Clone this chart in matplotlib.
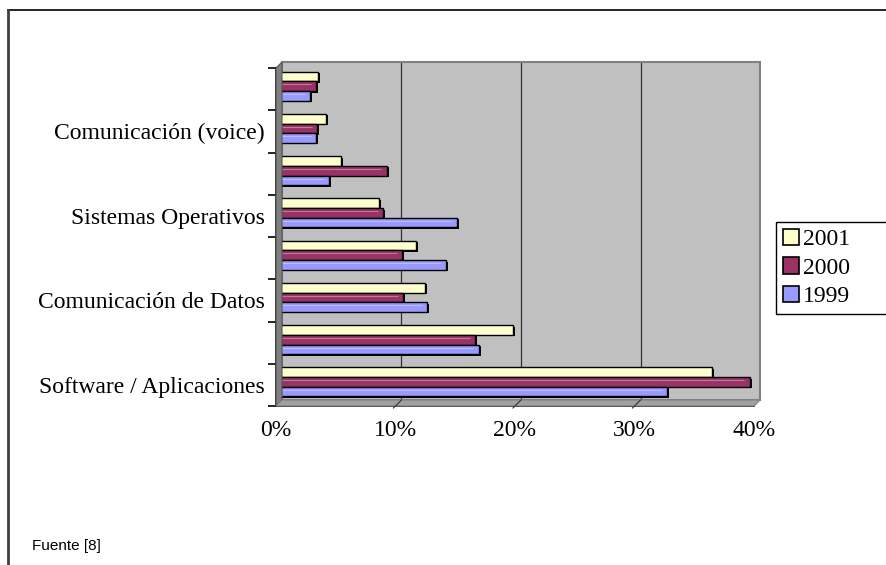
import matplotlib
matplotlib.use('Agg')
import matplotlib.pyplot as plt
import matplotlib.transforms as mtransforms
from matplotlib.patches import Polygon, Patch, Rectangle
from matplotlib.lines import Line2D
import numpy as np

# grupos de abajo hacia arriba; solo se rotula uno de cada dos
categorias = ['Software / Aplicaciones', '', 'Comunicación de Datos', '',
              'Sistemas Operativos', '', 'Comunicación (voice)', '']
v2001 = [36.3, 19.7, 12.3, 11.6, 8.5, 5.3, 4.0, 3.4]
v2000 = [39.5, 16.5, 10.5, 10.4, 8.8, 9.1, 3.3, 3.2]
v1999 = [32.6, 16.8, 12.5, 14.1, 15.0, 4.3, 3.2, 2.7]
anios = ['2001', '2000', '1999']
colores = ['#FFFFCC', '#993366', '#9999FF']
xticks = [0, 10, 20, 30, 40]

W, H = 887, 565
fig = plt.figure(figsize=(W / 100, H / 100), dpi=100)
fig.patch.set_facecolor('white')


def fx(px):
    return px / W


def fy(py):
    return 1 - py / H


# ejes frontales y pared del fondo (desplazada en 3D)
L, R, T, B = 276, 754, 68, 406
d = 6
ax_back = fig.add_axes([fx(L + d), fy(B - d), fx(R - L), (B - T) / H])
ax = fig.add_axes([fx(L), fy(B), fx(R - L), (B - T) / H])

n = len(categorias)
ax_back.set_facecolor('#C0C0C0')
ax_back.set_xlim(0, 40)
ax_back.set_ylim(0, n)
for s in ax_back.spines.values():
    s.set_color('#808080')
    s.set_linewidth(1.5)
ax_back.set_xticks([])
ax_back.set_yticks([])
for xv in xticks[1:-1]:
    ax_back.axvline(xv, color='#333333', lw=0.9)

# pared lateral y suelo
side = Polygon([(fx(L), fy(T)), (fx(L + d), fy(T - d)), (fx(L + d), fy(B - d)), (fx(L), fy(B))],
               closed=True, transform=fig.transFigure, facecolor='#808080', edgecolor='#555555', lw=0.8)
floor = Polygon([(fx(L), fy(B)), (fx(L + d), fy(B - d)), (fx(R + d), fy(B - d)), (fx(R), fy(B))],
                closed=True, transform=fig.transFigure, facecolor='#A0A0A0', edgecolor='#808080', lw=0.8)
fig.patches.extend([side, floor])
for xv in xticks[1:-1]:
    xp = L + xv / 40 * (R - L)
    fig.lines.append(Line2D([fx(xp + d), fx(xp - 2)], [fy(B - d), fy(B + 2)],
                            transform=fig.transFigure, color='#333333', lw=0.8))

ax.set_facecolor('none')
ax.set_xlim(0, 40)
ax.set_ylim(0, n)
ax.spines['top'].set_visible(False)
ax.spines['right'].set_visible(False)
ax.spines['left'].set_linewidth(1.2)
ax.spines['bottom'].set_linewidth(1.2)

# barras con sombra negra para dar volumen
h = 0.23
offs = [h, 0.0, -h]
y = np.arange(n) + 0.57
sombra = mtransforms.offset_copy(ax.transData, fig=fig, x=2, y=-1.5, units='dots')
for vals, col, off, lab in zip([v2001, v2000, v1999], colores, offs, anios):
    ax.barh(y + off, vals, height=h, left=0.15, color='black', transform=sombra, zorder=2)
    ax.barh(y + off, vals, height=h, left=0.15, color=col, edgecolor='black', lw=1.0, zorder=3, label=lab)
    ax.hlines(y + off + h * 0.18, 0.3, np.array(vals) - 0.3, color='white', lw=0.8, alpha=0.35, zorder=4)

ax.set_yticks(np.arange(n + 1))
ax.set_yticklabels([])
ax.set_yticks(np.arange(n) + 0.5, minor=True)
ax.set_yticklabels(categorias, minor=True, fontsize=17, family='Liberation Serif')
ax.tick_params(axis='y', which='major', direction='out', length=6, width=1.2)
ax.tick_params(axis='y', which='minor', length=0, pad=8)

ax.set_xticks(xticks)
ax.set_xticklabels([f'{v}%' for v in xticks], fontsize=17, family='Liberation Serif')
ax.tick_params(axis='x', direction='out', length=0, pad=10)

# leyenda: el recuadro sigue más allá del borde derecho
fig.patches.append(Rectangle((fx(776), fy(314)), fx(130), (314 - 222) / H, transform=fig.transFigure,
                             facecolor='white', edgecolor='black', lw=1.0, zorder=5))
handles = [Patch(facecolor=c, edgecolor='black', lw=1.2) for c in colores]
leg = fig.legend(handles, anios, loc='upper left', bbox_to_anchor=(fx(778), fy(224)),
                 prop={'family': 'Liberation Serif', 'size': 17}, frameon=False,
                 handlelength=0.7, handleheight=0.7, handletextpad=0.15,
                 labelspacing=0.3, borderpad=0.2, borderaxespad=0)
leg.set_zorder(6)

# marco exterior
fig.lines.append(Line2D([fx(8), 1], [fy(10), fy(10)], transform=fig.transFigure, color='black', lw=1.2))
fig.lines.append(Line2D([fx(8), fx(8)], [fy(10), 0], transform=fig.transFigure, color='#404040', lw=2))

fig.text(fx(32), fy(546), 'Fuente [8]', fontsize=11, family='Liberation Sans', va='center', ha='left')

fig.savefig('out.png', dpi=100)
